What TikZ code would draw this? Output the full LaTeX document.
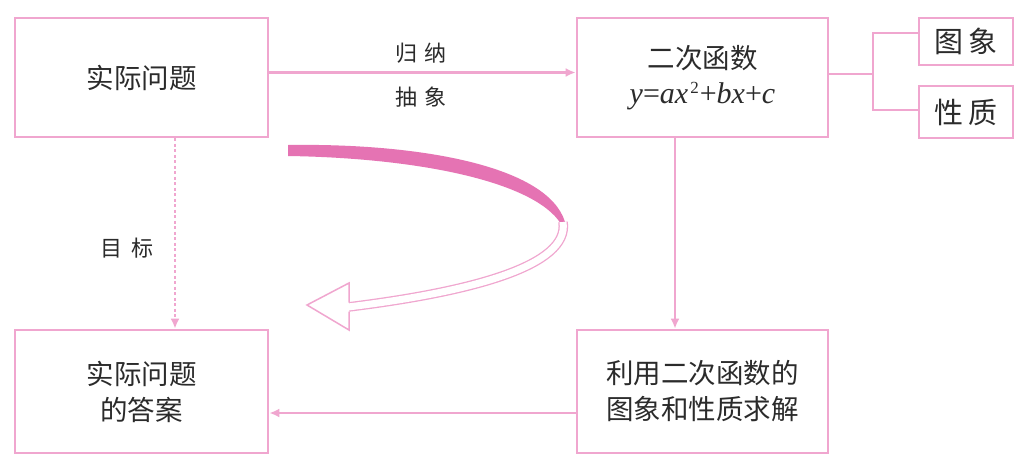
\documentclass[tikz,border=0pt]{standalone}
\usepackage{fontspec}
\setmainfont{Liberation Serif}
\newfontfamily\cjk{Noto Sans CJK SC}
\usetikzlibrary{arrows.meta}
\definecolor{pinkline}{HTML}{F0A6CF}
\definecolor{pinkdark}{HTML}{E573B3}
\definecolor{txt}{HTML}{2B2B2B}
\tikzset{
  box/.style={draw=pinkline, line width=2.8pt, inner sep=0pt, align=center, text=txt,
    font=\cjk\fontsize{27.5}{36}\selectfont},
  conn/.style={draw=pinkline, line width=2.8pt},
  arr/.style={conn, -{Latex[length=10pt,width=9pt]}},
  lbl/.style={text=txt, font=\cjk\fontsize{22}{24}\selectfont, inner sep=0pt},
}
\begin{document}
\begin{tikzpicture}[x=1pt,y=-1pt]
\useasboundingbox (0,0) rectangle (1015,456);
\fill[white] (0,0) rectangle (1015,456);
% boxes
\node[box, minimum width=253pt, minimum height=119pt] (b1) at (141.5,77.5) {实际问题};
\node[box, minimum width=251pt, minimum height=119pt] (b2) at (702.5,77.5)
  {二次函数\\[-1pt]{\rmfamily\fontsize{30}{30}\selectfont\itshape y\upshape=\itshape ax\hspace{2pt}\raisebox{10pt}{\upshape\fontsize{17}{17}\selectfont 2}\hspace{1pt}\upshape+\itshape bx\upshape+\itshape c}};
\node[box, minimum width=94pt, minimum height=47pt, font=\cjk\fontsize{29}{30}\selectfont] (t1) at (966,41.5) {图\hspace{5pt}象};
\node[box, minimum width=94pt, minimum height=52pt, font=\cjk\fontsize{29}{30}\selectfont] (t2) at (966,112) {性\hspace{5pt}质};
\node[box, minimum width=253pt, minimum height=123pt] (b3) at (141.5,391.5) {实际问题\\的答案};
\node[box, minimum width=251pt, minimum height=123pt] (b4) at (702.5,391.5) {利用二次函数的\\图象和性质求解};
% connectors
\draw[arr] ([yshift=5pt]b1.east) -- ([yshift=5pt]b2.west);
\node[lbl] (l1) at (421,53) {归\hspace{7pt}纳};
\node[lbl] (l2) at (421,97) {抽\hspace{7pt}象};
\coordinate (br) at (873,74);
\draw[conn] ([yshift=3.5pt]b2.east) -- (br);
\draw[conn] ([yshift=8.5pt]t1.west) -| (br) |- ([yshift=2pt]t2.west);
\draw[arr] ([xshift=-27.5pt]b2.south) -- ([xshift=-27.5pt]b4.north);
\draw[arr] ([yshift=-21.5pt]b4.west) -- ([yshift=-21.5pt]b3.east);
\draw[conn, line width=2.6pt, dash pattern=on 3pt off 2.5pt, -{Latex[length=10pt,width=9pt]}]
  ([xshift=33.5pt]b1.south) -- ([xshift=33.5pt]b3.north);
\node[lbl] (l3) at (127,248) {目\hspace{10pt}标};
% curved arrow
\fill[pinkdark] (288,145) .. controls (420,143) and (548,166) .. (565,222)
  -- (561,224) .. controls (535,182) and (420,158) .. (288,156) -- cycle;
\draw[pinkline, line width=1.3pt, double=white, double distance=7pt]
  (563,222) .. controls (570,266) and (470,292) .. (348,307);
\fill[white] (349,283) -- (307,305) -- (349,330) -- cycle;
\draw[pinkline, line width=1.5pt, line join=miter]
  (349,302.5) -- (349,283) -- (307,305) -- (349,330) -- (349,311.5);
\end{tikzpicture}
\end{document}
